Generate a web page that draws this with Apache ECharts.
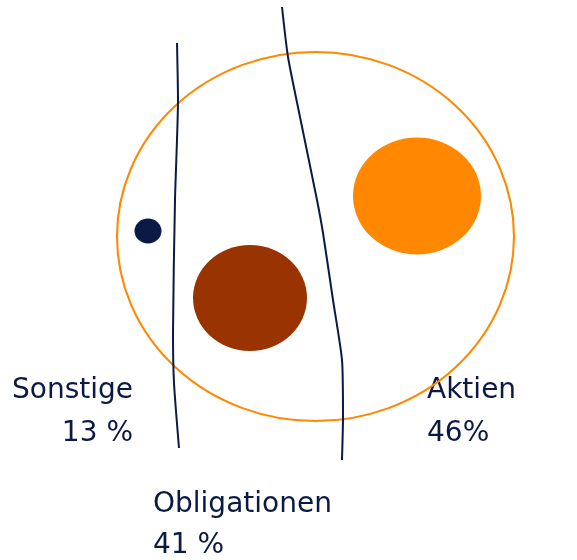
<!DOCTYPE html>
<html>
<head>
<meta charset="utf-8">
<script src="https://cdn.jsdelivr.net/npm/echarts@6/dist/echarts.min.js"></script>
<style>
  html, body { margin: 0; padding: 0; background: #fff; }
  #main { width: 577px; height: 560px; }
</style>
</head>
<body>
<div id="main"></div>
<script>
// Anteile
var categories = ['Aktien', 'Obligationen', 'Sonstige'];
var shares = [46, 41, 13];
var shareText = ['46%', '41 %', '13 %'];

// Lage der Kreise in Achsen-Einheiten (x nach rechts, y nach unten)
var centersX = [417, 250, 148];
var centersY = [196, 298, 231];
var sizesW = [128, 114, 27];
var sizesH = [117, 106, 25];
var colors = ['#ff8800', '#993300', '#0b1a45'];

// grosser Rahmenkreis
var outerX = 315.5, outerY = 236.5, outerW = 397, outerH = 369;

// Trennlinien (freihand)
var line1X = [177, 178, 175, 173, 174, 179];
var line1Y = [43, 100, 200, 333, 383, 448];
var line2X = [282, 288, 300, 317, 323, 333, 342, 343, 342];
var line2Y = [7, 57, 117, 200, 233, 300, 360, 417, 460];

var navy = '#0b1a45';
var myChart = echarts.init(document.getElementById('main'));

function pts(xs, ys) {
  var out = [];
  for (var i = 0; i < xs.length; i++) out.push([xs[i], ys[i]]);
  return out;
}

var circleData = [];
for (var i = 0; i < categories.length; i++) {
  circleData.push({
    name: categories[i],
    value: [centersX[i], centersY[i], shares[i]],
    symbolSize: [sizesW[i], sizesH[i]],
    itemStyle: { color: colors[i], opacity: 1 }
  });
}

// Beschriftungen (y = Grundlinie)
function txt(x, y, s, align) {
  return {
    type: 'text', x: x, y: y - 21,
    style: {
      text: s, fill: navy, fontSize: 28, fontFamily: 'DejaVu Sans',
      textAlign: align, textVerticalAlign: 'top'
    }
  };
}

myChart.setOption({
  animation: false,
  grid: { left: 0, right: 0, top: 0, bottom: 0 },
  xAxis: { type: 'value', min: 0, max: 577, show: false },
  yAxis: { type: 'value', min: 0, max: 560, inverse: true, show: false },
  series: [
    {
      type: 'scatter',
      symbol: 'circle',
      data: [{ value: [outerX, outerY], symbolSize: [outerW, outerH] }],
      itemStyle: { color: 'transparent', borderColor: '#ff8800', borderWidth: 2, opacity: 1 },
      silent: true
    },
    {
      type: 'scatter',
      symbol: 'circle',
      data: circleData,
      silent: true
    },
    {
      type: 'line', data: pts(line1X, line1Y), smooth: 0.2, symbol: 'none',
      lineStyle: { color: navy, width: 2 }, silent: true
    },
    {
      type: 'line', data: pts(line2X, line2Y), smooth: 0.2, symbol: 'none',
      lineStyle: { color: navy, width: 2 }, silent: true
    }
  ],
  graphic: [
    txt(133, 398, categories[2], 'right'),
    txt(133, 441, shareText[2], 'right'),
    txt(427, 398, categories[0], 'left'),
    txt(427, 441, shareText[0], 'left'),
    txt(153, 512, categories[1], 'left'),
    txt(153, 553, shareText[1], 'left')
  ]
});
</script>
</body>
</html>
